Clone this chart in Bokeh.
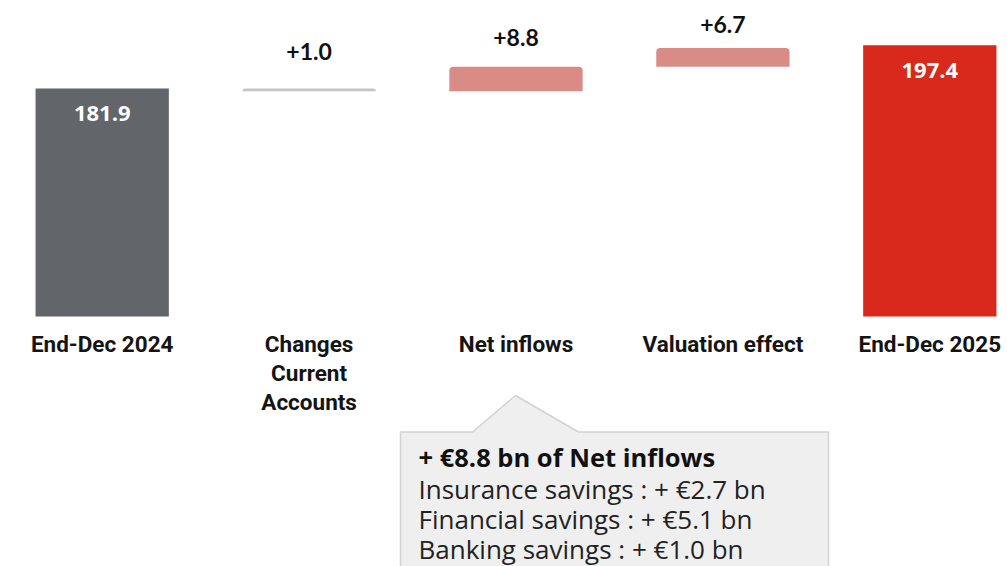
from bokeh.plotting import figure
from bokeh.models import ColumnDataSource, Range1d
from bokeh.core.properties import value
from bokeh.embed import file_html
from bokeh.resources import INLINE

# ---------------- data ----------------
categories = ["End-Dec 2024", "Changes\nCurrent\nAccounts", "Net inflows",
              "Valuation effect", "End-Dec 2025"]
start_total = 181.9
end_total = 197.4
changes_current_accounts = 1.0
net_inflows = 8.8
valuation_effect = 6.7
bar_labels = ["181.9", "197.4"]
step_labels = ["+1.0", "+8.8", "+6.7"]
callout_title = "+ €8.8 bn of Net inflows"
callout_lines = ["Insurance savings : + €2.7 bn",
                 "Financial savings : + €5.1 bn",
                 "Banking savings : + €1.0 bn"]
axis_base = 100.0

# ---------------- layout ----------------
W, H = 1007, 566
cat_px = 206.9          # px between category centres
x0_px = 101.7           # px of first category centre
k = 2.784               # px per unit
base_px_from_top = 316

x_start = -x0_px / cat_px
x_end = x_start + W / cat_px
y_start = axis_base - (H - base_px_from_top) / k
y_end = y_start + H / k


def xd(px):
    return x_start + px / cat_px


def yd(py):
    return y_end - py / k


# waterfall geometry (as drawn in the original)
lvl1 = start_total - changes_current_accounts
lvl2 = lvl1 + net_inflows
lvl3 = lvl2 + valuation_effect

p = figure(width=W, height=H, output_backend="svg", toolbar_location=None,
           x_range=Range1d(x_start, x_end), y_range=Range1d(y_start, y_end),
           min_border=0, outline_line_color=None)
p.axis.visible = False
p.grid.visible = False
p.background_fill_color = "white"
p.border_fill_color = "white"

bw = 133.3 / cat_px

# total bars
totals = ColumnDataSource(dict(x=[0, 4], top=[start_total, end_total],
                               bottom=[axis_base, axis_base],
                               color=["#626569", "#d9291c"], label=bar_labels))
p.vbar(x="x", top="top", bottom="bottom", width=bw, fill_color="color",
       line_color=None, source=totals)
p.text(x="x", y="top", text="label", source=totals, text_color="white",
       text_font=value("Open Sans"), text_font_style="bold", text_font_size="22px",
       text_align="center", text_baseline="middle", y_offset=25)

# step bars
steps = ColumnDataSource(dict(x=[1, 2, 3],
                              bottom=[lvl1, lvl1, lvl2],
                              top=[start_total, lvl2, lvl3],
                              color=["#c4c4c4", "#d98b86", "#d98b86"],
                              label=step_labels,
                              gap=[-37, -29, -24]))
p.vbar(x="x", top="top", bottom="bottom", width=bw, fill_color="color",
       line_color=None, source=steps, border_radius=(4, 4, 0, 0))
p.text(x="x", y="top", text="label", source=steps, text_color="#111111",
       text_font=value("Lato"), text_font_style="bold", text_font_size="23px",
       text_align="center", text_baseline="alphabetic", y_offset="gap")

# category labels
p.text(x=list(range(len(categories))), y=[axis_base] * len(categories), text=categories,
       text_color="#141414", text_font=value("Roboto"), text_font_style="bold",
       text_font_size="22.5px", text_align="center", text_baseline="top",
       text_line_height=1.13, y_offset=14)

# callout box (pixel layout converted to data units)
poly_px = [(400, 700), (400, 431.5), (472, 431.5), (515, 395), (578, 431.5),
           (828, 431.5), (828, 700)]
p.patch([xd(a) for a, b in poly_px], [yd(b) for a, b in poly_px],
        fill_color="#efefef", line_color="#d2d2d2", line_width=1.5)

p.text(x=[xd(418)], y=[yd(456)], text=[callout_title], text_color="#111111",
       text_font=value("Open Sans"), text_font_style="bold", text_font_size="25.5px",
       text_align="left", text_baseline="middle")
for i, line in enumerate(callout_lines):
    p.text(x=[xd(418)], y=[yd(488 + 30 * i)], text=[line], text_color="#222222",
           text_font=value("Open Sans"), text_font_size="26px",
           text_align="left", text_baseline="middle")

open("out.html", "w").write(file_html(p, INLINE))
